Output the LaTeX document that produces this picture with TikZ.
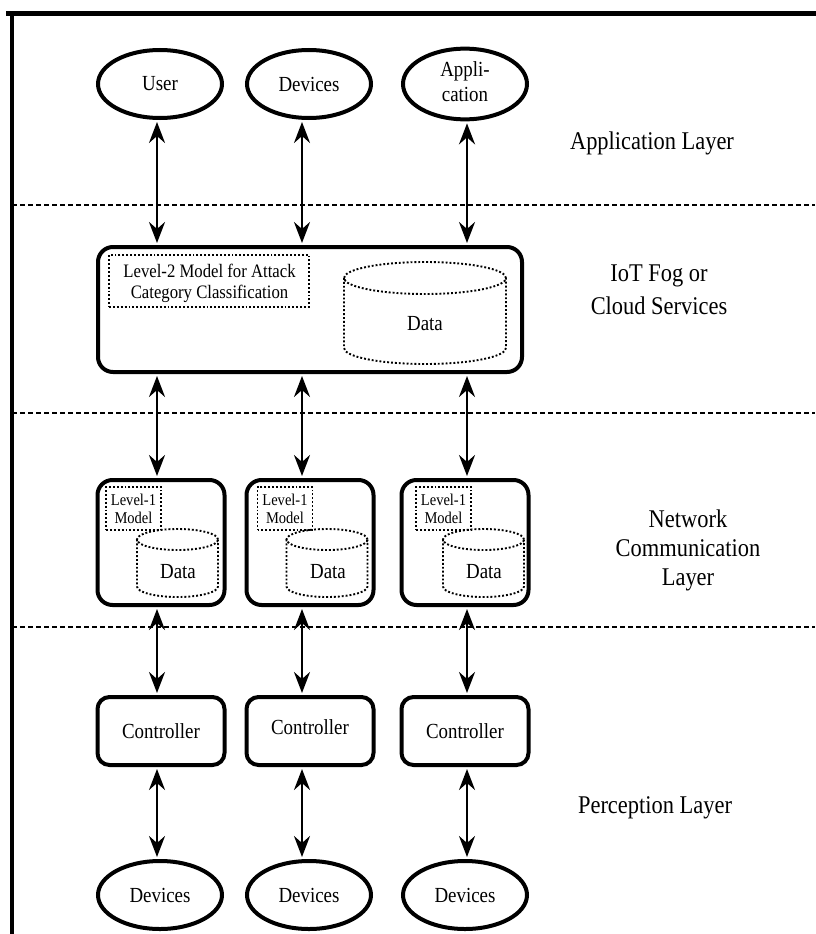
\documentclass[tikz,border=0pt]{standalone}
\usepackage{fontspec}
\setmainfont{Liberation Serif}
\usepackage{graphicx}
\usetikzlibrary{arrows.meta,shapes.geometric}
\newcommand{\sq}[1]{\scalebox{0.88}[1]{#1}}
\newcommand{\sqt}[1]{\scalebox{0.88}[1]{\begin{tabular}[t]{@{}c@{}}#1\end{tabular}}}
\newcommand{\sqc}[1]{\scalebox{0.88}[1]{\begin{tabular}{@{}c@{}}#1\end{tabular}}}
\newcommand{\cyl}[5]{%
  \draw[cylline] (#1,#2) ellipse [x radius=#4, y radius=#5];
  \draw[cylline] ({#1-#4},#2) -- ({#1-#4},#3) arc[start angle=180,end angle=360,x radius=#4,y radius=#5] -- ({#1+#4},#2);
}
\begin{document}
\begin{tikzpicture}[x=1pt,y=1pt,
  ell/.style={ellipse, draw, line width=4pt, minimum width=124pt, minimum height=68pt, inner sep=0pt, font=\fontsize{21.5}{24}\selectfont},
  fogbox/.style={draw, line width=4pt, rounded corners=15pt, minimum width=424pt, minimum height=125pt, inner sep=0pt},
  netbox/.style={draw, line width=4pt, rounded corners=15pt, minimum width=127pt, minimum height=125pt, inner sep=0pt},
  ctrlbox/.style={draw, line width=4pt, rounded corners=12pt, minimum width=127pt, minimum height=68pt, inner sep=0pt, font=\fontsize{21.5}{24}\selectfont},
  dotbox/.style={draw, dotted, line width=1.9pt, inner sep=0pt},
  cylline/.style={dotted, line width=1.9pt},
  lbl/.style={anchor=base, inner sep=0pt, font=\fontsize{25.5}{30}\selectfont},
  txt/.style={anchor=base, inner sep=0pt},
  tip/.tip={Stealth[length=21pt,width=16pt,inset=7pt]},
  arr/.style={line width=2.7pt, tip-tip, shorten >=2pt, shorten <=2pt},
  layerline/.style={line width=1.6pt, dash pattern=on 5pt off 3pt}
]
\useasboundingbox (0,0) rectangle (815,-934);
% frame
\draw[line width=4.5pt] (6,-13.5) -- (830,-13.5);
\draw[line width=3.5pt] (12,-13.5) -- (12,-950);
% layer separators
\draw[layerline] (12,-205) -- (815,-205);
\draw[layerline] (12,-413) -- (815,-413);
\draw[layerline] (12,-627) -- (815,-627);
% application layer
\node[ell] (u1) at (160,-84) {\sq{User}};
\node[ell] (u2) at (309,-84) {\sq{Devices}};
\node[ell] (u3) at (465,-84) {\fontsize{21.5}{25}\selectfont\sqc{Appli-\\cation}};
% fog / cloud
\node[fogbox] (fog) at (310,-309.5) {};
\node[dotbox, minimum width=200pt, minimum height=52pt] (l2) at (209,-281) {};
\node[txt, font=\fontsize{19}{21}\selectfont] (l2t) at (209.5,-277) {\sqt{Level-2 Model for Attack\\Category Classification}};
\cyl{425}{-278}{-348}{81}{16}
\node[txt, font=\fontsize{21.5}{24}\selectfont] (d0) at (425,-330) {\sq{Data}};
% network boxes
\node[netbox] (n1) at (161,-542.5) {};
\node[netbox] (n2) at (310,-542.5) {};
\node[netbox] (n3) at (465,-542.5) {};
\node[dotbox, minimum width=55pt, minimum height=43pt] (m1) at (133.5,-508.5) {};
\node[dotbox, minimum width=55pt, minimum height=43pt] (m2) at (285,-508.5) {};
\node[dotbox, minimum width=55pt, minimum height=43pt] (m3) at (443.5,-508.5) {};
\node[txt, font=\fontsize{16.5}{18}\selectfont] (m1t) at (133.5,-505) {\sqt{Level-1\\Model}};
\node[txt, font=\fontsize{16.5}{18}\selectfont] (m2t) at (285,-505) {\sqt{Level-1\\Model}};
\node[txt, font=\fontsize{16.5}{18}\selectfont] (m3t) at (443.5,-505) {\sqt{Level-1\\Model}};
\cyl{177.5}{-539.5}{-586.5}{40.5}{10.5}
\cyl{327}{-539.5}{-586.5}{40.5}{10.5}
\cyl{483.5}{-539.5}{-586.5}{40.5}{10.5}
\node[txt, font=\fontsize{21.5}{24}\selectfont] (d1) at (178,-578) {\sq{Data}};
\node[txt, font=\fontsize{21.5}{24}\selectfont] (d2) at (328,-578) {\sq{Data}};
\node[txt, font=\fontsize{21.5}{24}\selectfont] (d3) at (484,-578) {\sq{Data}};
% controllers
\node[ctrlbox] (c1) at (161,-731) {\sq{Controller}};
\node[ctrlbox] (c2) at (310,-731) {\raisebox{8pt}{\sq{Controller}}};
\node[ctrlbox] (c3) at (465,-731) {\sq{Controller}};
% devices
\node[ell] (e1) at (160,-895) {\sq{Devices}};
\node[ell] (e2) at (309,-895) {\sq{Devices}};
\node[ell] (e3) at (465,-895) {\sq{Devices}};
% layer labels
\node[lbl] (la) at (652,-149) {\sq{Application Layer}};
\node[lbl, font=\fontsize{25.5}{33}\selectfont] (lb) at (659,-281) {\sqt{IoT Fog or\\Cloud Services}};
\node[lbl, font=\fontsize{25.5}{29}\selectfont] (lc) at (688,-527) {\sqt{Network\\Communication\\Layer}};
\node[lbl] (ld) at (655,-813) {\sq{Perception Layer}};
% arrow columns
\coordinate (k1) at (157,0);
\coordinate (k2) at (302,0);
\coordinate (k3) at (467,0);
\draw[arr] (u1.south -| k1) -- (fog.north -| k1);
\draw[arr] (u2.south -| k2) -- (fog.north -| k2);
\draw[arr] (u3.south -| k3) -- (fog.north -| k3);
\draw[arr] (fog.south -| k1) -- (n1.north -| k1);
\draw[arr] (fog.south -| k2) -- (n2.north -| k2);
\draw[arr] (fog.south -| k3) -- (n3.north -| k3);
\draw[arr] (n1.south -| k1) -- (c1.north -| k1);
\draw[arr] (n2.south -| k2) -- (c2.north -| k2);
\draw[arr] (n3.south -| k3) -- (c3.north -| k3);
\draw[arr] (c1.south -| k1) -- (e1.north -| k1);
\draw[arr] (c2.south -| k2) -- (e2.north -| k2);
\draw[arr] (c3.south -| k3) -- (e3.north -| k3);
\end{tikzpicture}
\end{document}
